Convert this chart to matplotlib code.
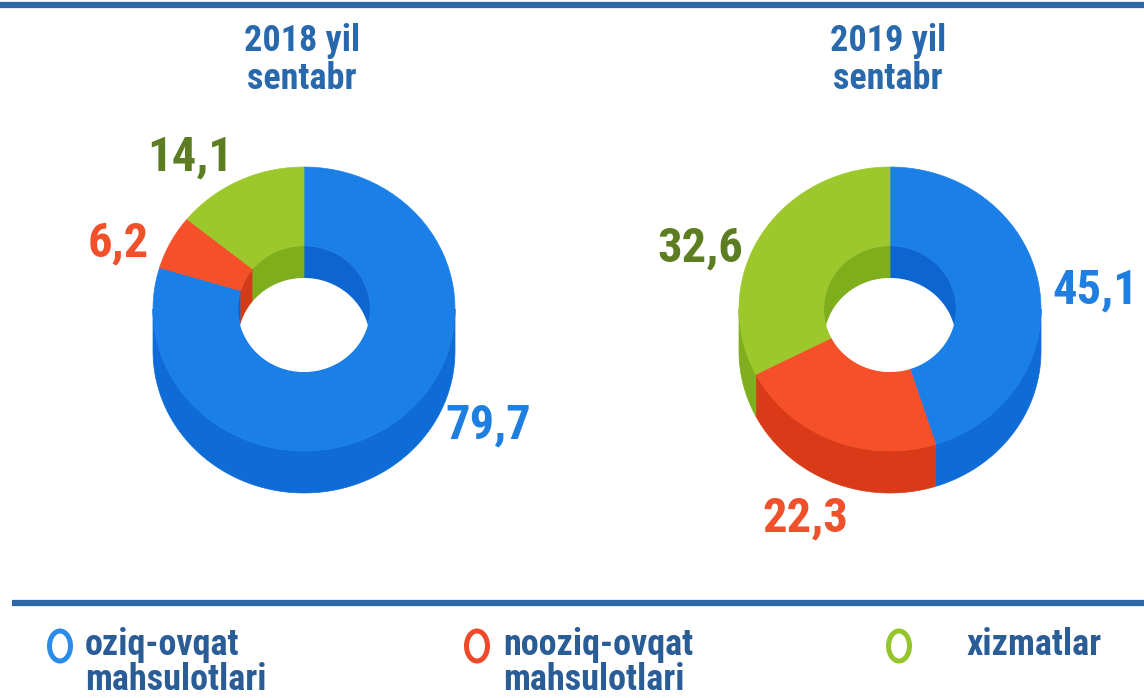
import numpy as np
import matplotlib
matplotlib.use("Agg")
import matplotlib.pyplot as plt
from matplotlib.patches import Polygon, Ellipse

# data
years = ['2018 yil\nsentabr', '2019 yil\nsentabr']
categories = ['oziq-ovqat\nmahsulotlari', 'nooziq-ovqat\nmahsulotlari', 'xizmatlar']
share_2018 = [79.7, 6.2, 14.1]
share_2019 = [45.1, 22.3, 32.6]

# styling
top_cols = ['#1b7fe8', '#f5502a', '#9cc82b']
wall_cols = ['#0f6cd6', '#d93a18', '#80ae1e']
inner_cols = ['#0d66cf', '#d33a18', '#7fae1c']
text_cols = ['#1f7fe0', '#f0502a', '#5d7d22']
ring_cols = ['#2b8be8', '#ee4a2a', '#94c52a']
title_col = '#2868ad'
legend_col = '#2a5c96'
line_col = '#2c67a8'

plt.rcParams['font.family'] = ['Roboto Condensed', 'Roboto', 'DejaVu Sans']

# donut geometry (pixel units)
centers = [(304, 309), (890, 309)]
RX, RY = 151, 142
RIX, RIY = 66, 63
D_OUT, D_IN = 42, 32

# label positions per donut, one per category
label_pos = [[(488, 425), (118, 243), (190, 157)],
             [(1095, 290), (805, 518), (700, 248)]]


def arc(cx, cy, rx, ry, a0, a1, n=80):
    t = np.radians(np.linspace(a0, a1, n))
    return np.column_stack([cx + rx * np.cos(t), cy - ry * np.sin(t)])


def overlap(a0, a1, lo, hi):
    # pieces of [a0, a1] lying in [lo, hi] + 360k
    out = []
    for k in (-2, -1, 0, 1):
        s, e = max(a0, lo + 360 * k), min(a1, hi + 360 * k)
        if e > s:
            out.append((s, e))
    return out


def donut(ax, cx, cy, vals):
    vals = np.asarray(vals, dtype=float)
    ang = np.cumsum(np.concatenate([[0], vals])) / vals.sum() * 360
    slices = [(90 - ang[i + 1], 90 - ang[i]) for i in range(len(vals))]

    # outer side wall (front half)
    for i, (a0, a1) in enumerate(slices):
        for s, e in overlap(a0, a1, -180, 0):
            top = arc(cx, cy, RX, RY, s, e)
            bot = top[::-1] + [0, D_OUT]
            ax.add_patch(Polygon(np.vstack([top, bot]), closed=True,
                                 fc=wall_cols[i], ec=wall_cols[i], lw=0.5))

    # top face
    for i, (a0, a1) in enumerate(slices):
        outer = arc(cx, cy, RX, RY, a0, a1)
        inner = arc(cx, cy, RIX, RIY, a1, a0)
        ax.add_patch(Polygon(np.vstack([outer, inner]), closed=True,
                             fc=top_cols[i], ec=top_cols[i], lw=0.5))

    # inner wall seen through the hole (back half)
    hole = Polygon(arc(cx, cy, RIX, RIY, 0, 360, 200), closed=True,
                   fc='none', ec='none', transform=ax.transData)
    ax.add_patch(hole)
    for i, (a0, a1) in enumerate(slices):
        for s, e in overlap(a0, a1, 0, 180):
            top = arc(cx, cy, RIX, RIY, s, e)
            bot = top[::-1] + [0, D_IN]
            p = Polygon(np.vstack([top, bot]), closed=True,
                        fc=inner_cols[i], ec=inner_cols[i], lw=0.5)
            ax.add_patch(p)
            p.set_clip_path(hole)
    white = Polygon(arc(cx, cy + D_IN, RIX, RIY, 0, 360, 200), closed=True,
                    fc='white', ec='none')
    ax.add_patch(white)
    white.set_clip_path(hole)


fig = plt.figure(figsize=(11.44, 6.98), dpi=100)
ax = fig.add_axes([0, 0, 1, 1])
ax.set_xlim(0, 1144)
ax.set_ylim(698, 0)
ax.axis('off')

# rules
ax.plot([0, 1144], [5, 5], color=line_col, lw=4.5, solid_capstyle='butt')
ax.plot([12, 1144], [603, 603], color=line_col, lw=4.5, solid_capstyle='butt')

for k, vals in enumerate([share_2018, share_2019]):
    cx, cy = centers[k]
    donut(ax, cx, cy, vals)
    ax.text(cx - 2, 60, years[k], ha='center', va='center', fontsize=26,
            fontweight='bold', color=title_col, linespacing=1.05)
    for i, v in enumerate(vals):
        x, y = label_pos[k][i]
        ax.text(x, y, f'{v:.1f}'.replace('.', ','), ha='center', va='center',
                fontsize=35, fontweight='bold', color=text_cols[i])

# legend
ring_x = [60, 477, 899]
text_x = [85, 503, 966]
for i, name in enumerate(categories):
    ax.add_patch(Ellipse((ring_x[i], 646), 21, 30, fill=False,
                         ec=ring_cols[i], lw=3.6))
    for j, line in enumerate(name.split('\n')):
        ax.text(text_x[i], 655 + 35 * j, line, ha='left', va='baseline',
                fontsize=26, fontweight='bold', color=legend_col)

fig.savefig('out.png', dpi=100)
